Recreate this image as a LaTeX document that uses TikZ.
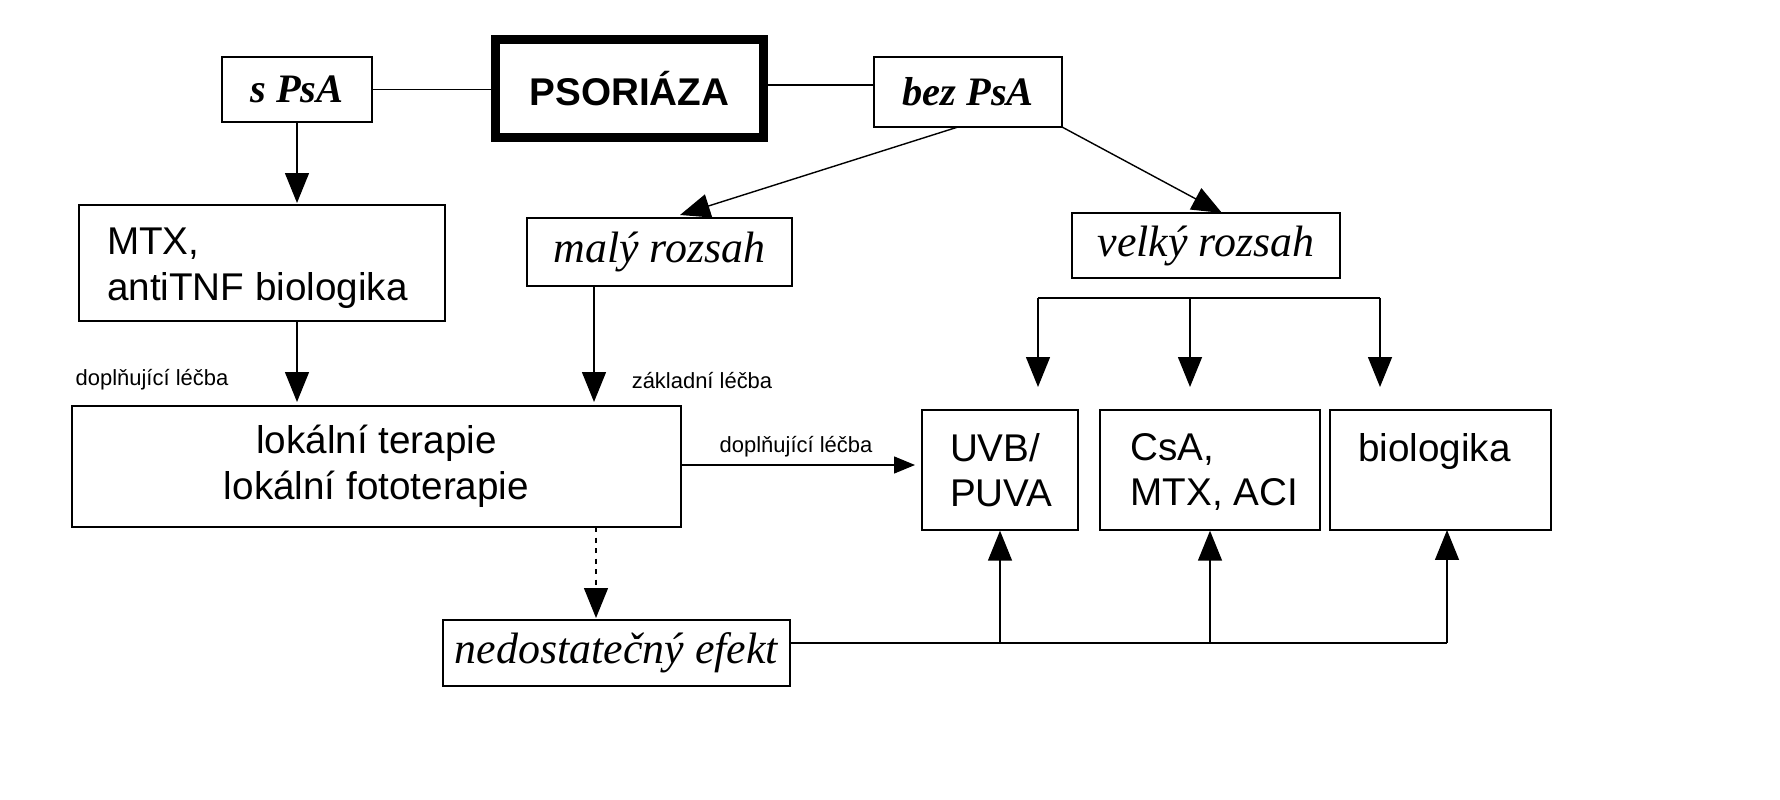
\documentclass[tikz,border=0pt]{standalone}
\usepackage{fontspec}
\setmainfont{Liberation Serif}
\setsansfont{Liberation Sans}
\usetikzlibrary{arrows.meta}
\tikzset{
  box/.style={draw, line width=0.8pt, inner sep=0pt},
  lbl/.style={font=\sffamily\fontsize{22}{26}\selectfont},
  itl/.style={font=\itshape\fontsize{25}{29}\selectfont},
  tip/.style={-{Triangle[length=0.6cm,width=0.48cm]}, line width=0.8pt},
  small/.style={font=\sffamily\fontsize{12.5}{15}\selectfont}
}
\begin{document}
\begin{tikzpicture}[x=0.02cm,y=-0.02cm]
\useasboundingbox (0,0) rectangle (1780,800);
\node[box, line width=5pt, minimum width=5.36cm, minimum height=1.96cm, font=\sffamily\bfseries\fontsize{22}{26}\selectfont] (pso) at (629.5,88.5) {PSORIÁZA};
\node[box, font=\bfseries\itshape\fontsize{23}{27}\selectfont, minimum width=3.0cm, minimum height=1.3cm] (spsa) at (297,89.5) {s PsA};
\node[box, font=\bfseries\itshape\fontsize{23}{27}\selectfont, minimum width=3.76cm, minimum height=1.4cm] (bez) at (968,92) {bez PsA};
\node[box, minimum width=7.32cm, minimum height=2.32cm] (mtx) at (262,263) {};
\node[lbl, anchor=north west, align=left] at ([xshift=0.45cm,yshift=-0.35cm]mtx.north west) {MTX,\\antiTNF biologika};
\node[box, itl, minimum width=5.3cm, minimum height=1.36cm] (maly) at (659.5,252) {malý rozsah};
\node[box, itl, minimum width=5.36cm, minimum height=1.3cm] (velky) at (1206,245.5) {velký rozsah};
\node[box, lbl, align=center, minimum width=12.18cm, minimum height=2.42cm] (lok) at (376.5,466.5) {lokální terapie\\lokální fototerapie};
\node[box, minimum width=3.12cm, minimum height=2.4cm] (uvb) at (1000,470) {};
\node[lbl, anchor=north west, align=left] at ([xshift=0.45cm,yshift=-0.35cm]uvb.north west) {UVB/\\PUVA};
\node[box, minimum width=4.4cm, minimum height=2.4cm] (csa) at (1210,470) {};
\node[lbl, anchor=north west, align=left] at ([xshift=0.5cm,yshift=-0.35cm]csa.north west) {CsA,\\MTX, ACI};
\node[box, minimum width=4.42cm, minimum height=2.4cm] (bio) at (1440.5,470) {};
\node[lbl, anchor=north west] at ([xshift=0.45cm,yshift=-0.35cm]bio.north west) {biologika};
\node[box, itl, minimum width=6.94cm, minimum height=1.32cm] (ned) at (616.5,653) {nedostatečný efekt};

\coordinate (bl) at (1038,298);
\coordinate (br) at (1380,298);
\coordinate (bm) at (1190,298);
\coordinate (nr) at (1447,643);

\draw[line width=0.8pt] (pso.west |- spsa.east) -- (spsa.east);
\draw[line width=0.8pt] (pso.east |- 0,85) -- (bez.west |- 0,85);
\draw[tip] (spsa.south) -- (297,203);
\draw[tip] (958,127) -- (680,215);
\draw[tip] (1062,127) -- (1222,213);
\draw[line width=0.8pt] (bl) -- (br);
\draw[tip] (bl) -- (1038,387);
\draw[tip] (bm) -- (1190,387);
\draw[tip] (br) -- (1380,387);
\draw[tip] (297,321) -- (297,402);
\draw[tip] (594,286) -- (594,402);
\node[small] (dopl) at (152,380) {doplňující léčba};
\node[small] (zakl) at (702,381) {základní léčba};
\draw[-{Triangle[length=0.42cm,width=0.34cm]}, line width=0.8pt] (lok.east |- 0,465) -- (915,465);
\node[small] at (796,447) {doplňující léčba};
\draw[tip, dashed] (596,527) -- (596,618);
\draw[line width=0.8pt] (ned.east |- nr) -- (nr);
\draw[tip] (1000,643) -- (uvb.south);
\draw[tip] (1210,643) -- (csa.south);
\draw[tip] (nr) -- (1447,530);
\end{tikzpicture}
\end{document}
